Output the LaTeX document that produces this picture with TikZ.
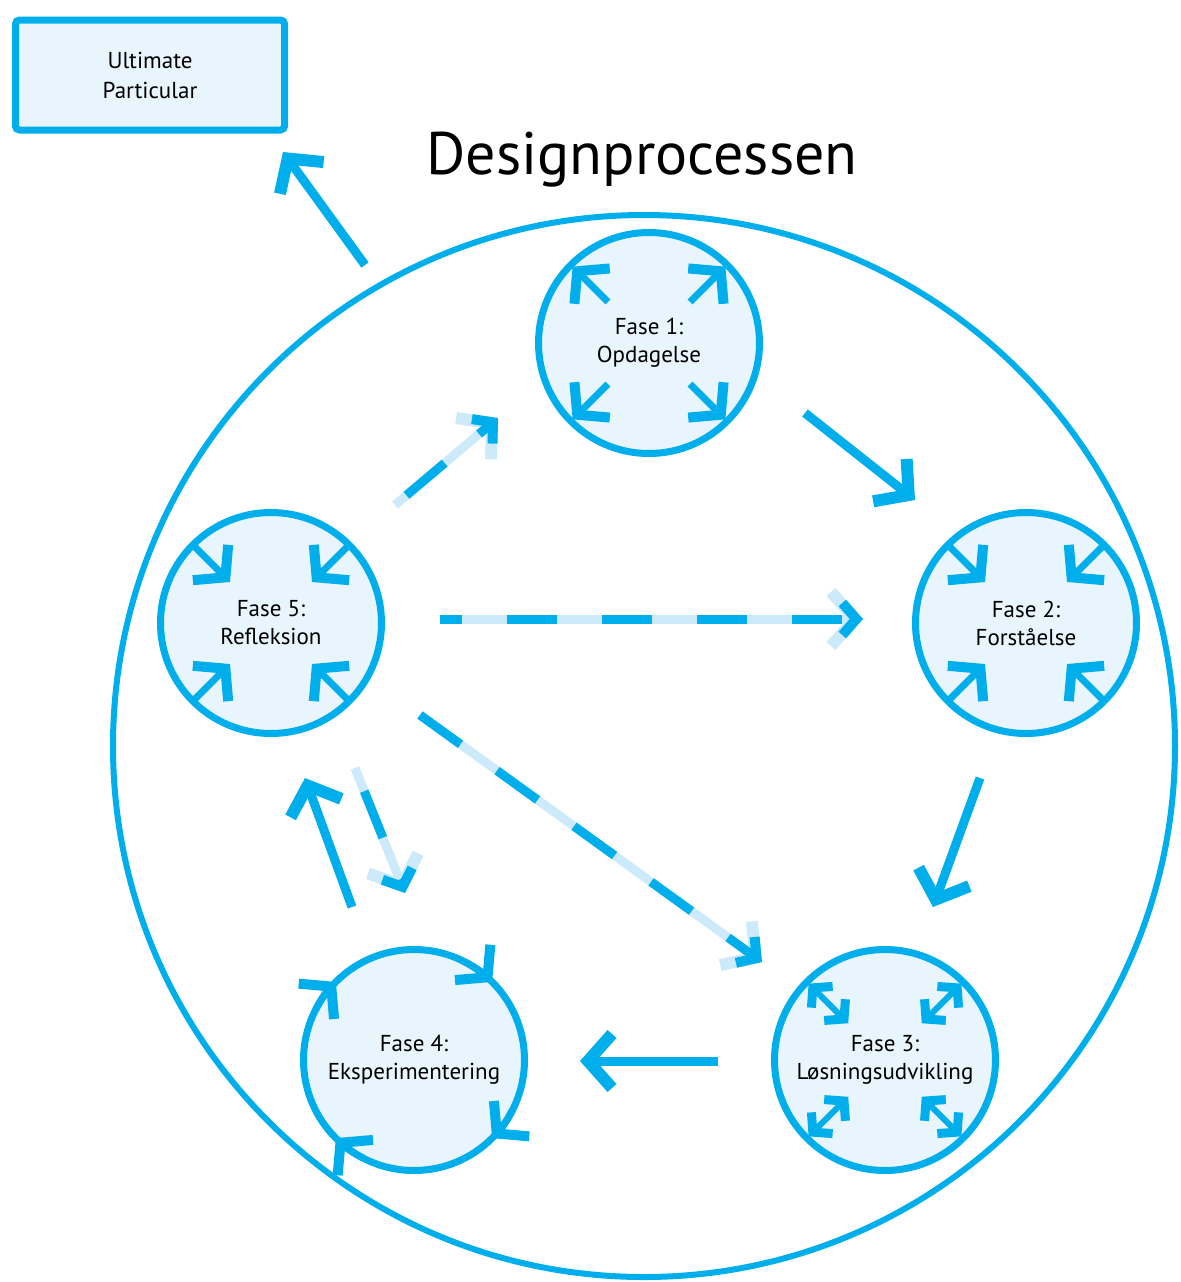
\documentclass[tikz,border=0pt]{standalone}
\usepackage{fontspec}
\setmainfont{PT Sans}
\usetikzlibrary{arrows.meta,calc}
\definecolor{dpblue}{RGB}{0,174,236}
\definecolor{dpfill}{RGB}{232,245,252}
\definecolor{dplight}{RGB}{204,234,249}

\begin{document}
\begin{tikzpicture}[x=0.5pt,y=-0.5pt]
		\tikzstyle{Phase} 	= [circle, draw=dpblue, fill=dpfill, line width=3.5pt, minimum size=110.5pt, inner sep=0pt, align=center, text=black, font=\fontsize{11.5}{14}\selectfont]
		\tikzstyle{Goal}	= [rectangle, rounded corners=2pt, draw=dpblue, fill=dpfill, line width=3.5pt, minimum width=134.5pt, minimum height=55pt, align=center, text=black, font=\fontsize{11.5}{15}\selectfont]
		\tikzstyle{Ring}	= [circle, draw=dpblue, line width=3pt, minimum size=531pt, inner sep=0pt]
		\tikzstyle{Arr}		= [dpblue, line width=4.5pt, -{Straight Barb[length=12pt,width=27pt,line width=6pt]}]
		\tikzstyle{Light}	= [dplight, line width=4.5pt, -{Straight Barb[length=12pt,width=27pt,line width=6pt]}]
		\tikzstyle{Dash}	= [dpblue, line width=4.5pt, dash pattern=on 25pt off 22.5pt, -{Straight Barb[length=7pt,width=16pt,line width=5pt]}]
		\tikzstyle{In}		= [dpblue, line width=3.5pt, -{Straight Barb[length=10.5pt,width=25pt,line width=5pt]}]
		\tikzstyle{Both}	= [dpblue, line width=3pt, {Straight Barb[length=6.5pt,width=15pt,line width=4.5pt]}-{Straight Barb[length=6.5pt,width=15pt,line width=4.5pt]}]

		\useasboundingbox (0,0) rectangle (1181,1282);

		\node (proc) at (644, 746) [Ring]{};
		\node (title) at (642, 160) [font=\fontsize{30}{36}\selectfont, text=black]{Designprocessen};
		\node (goal) at (150, 75) [Goal]{Ultimate\\Particular};

		\node (f1) at (649, 343) [Phase]{Fase 1:\\Opdagelse};
		\node (f2) at (1026, 623) [Phase]{Fase 2:\\Forståelse};
		\node (f3) at (885, 1060) [Phase]{Fase 3:\\Løsningsudvikling};
		\node (f4) at (414, 1060) [Phase]{Fase 4:\\Eksperimentering};
		\node (f5) at (271, 623) [Phase]{Fase 5:\\Refleksion};

		\foreach \a in {45,135,225,315} {
			\draw [In] ($(f1)+(\a:58)$) -- ($(f1)+(\a:108)$);
			\draw [In] ($(f2)+(\a:108)$) -- ($(f2)+(\a:58)$);
			\draw [In] ($(f5)+(\a:108)$) -- ($(f5)+(\a:58)$);
			\draw [Both] ($(f3)+(\a:52)$) -- ($(f3)+(\a:108)$);
			\draw [In] ($(f4)+(\a-18:110.5)$) arc [start angle=\a-18, end angle=\a, radius=110.5];
		}

		\draw [Arr] ([shift={(-279,-481)}]proc.center) -- ([shift={(133,77)}]goal.center);
		\draw [Arr] ([shift={(156,70)}]f1.center) -- ([shift={(-111,-123)}]f2.center);
		\draw [Arr] ([shift={(-46,155)}]f2.center) -- ([shift={(48,-153)}]f3.center);
		\draw [Arr] ([shift={(-167,1)}]f3.center) -- ([shift={(166,1)}]f4.center);
		\draw [Arr] ([shift={(-62,-153)}]f4.center) -- ([shift={(34,155)}]f5.center);

		\draw [Light] ([shift={(124,-118)}]f5.center) -- ([shift={(-151,75)}]f1.center);
		\draw [Dash, dash phase=40pt] ([shift={(124,-118)}]f5.center) -- ([shift={(-151,75)}]f1.center);
		\draw [Light] ([shift={(169,-4)}]f5.center) -- ([shift={(-163,-4)}]f2.center);
		\draw [Dash, dash phase=14pt] ([shift={(169,-4)}]f5.center) -- ([shift={(-163,-4)}]f2.center);
		\draw [Light] ([shift={(149,92)}]f5.center) -- ([shift={(-123,-98)}]f3.center);
		\draw [Dash] ([shift={(149,92)}]f5.center) -- ([shift={(-123,-98)}]f3.center);
		\draw [Light] ([shift={(84,145)}]f5.center) -- ([shift={(-9,-167)}]f4.center);
		\draw [Dash, dash phase=35pt] ([shift={(84,145)}]f5.center) -- ([shift={(-9,-167)}]f4.center);
	\end{tikzpicture}
\end{document}
